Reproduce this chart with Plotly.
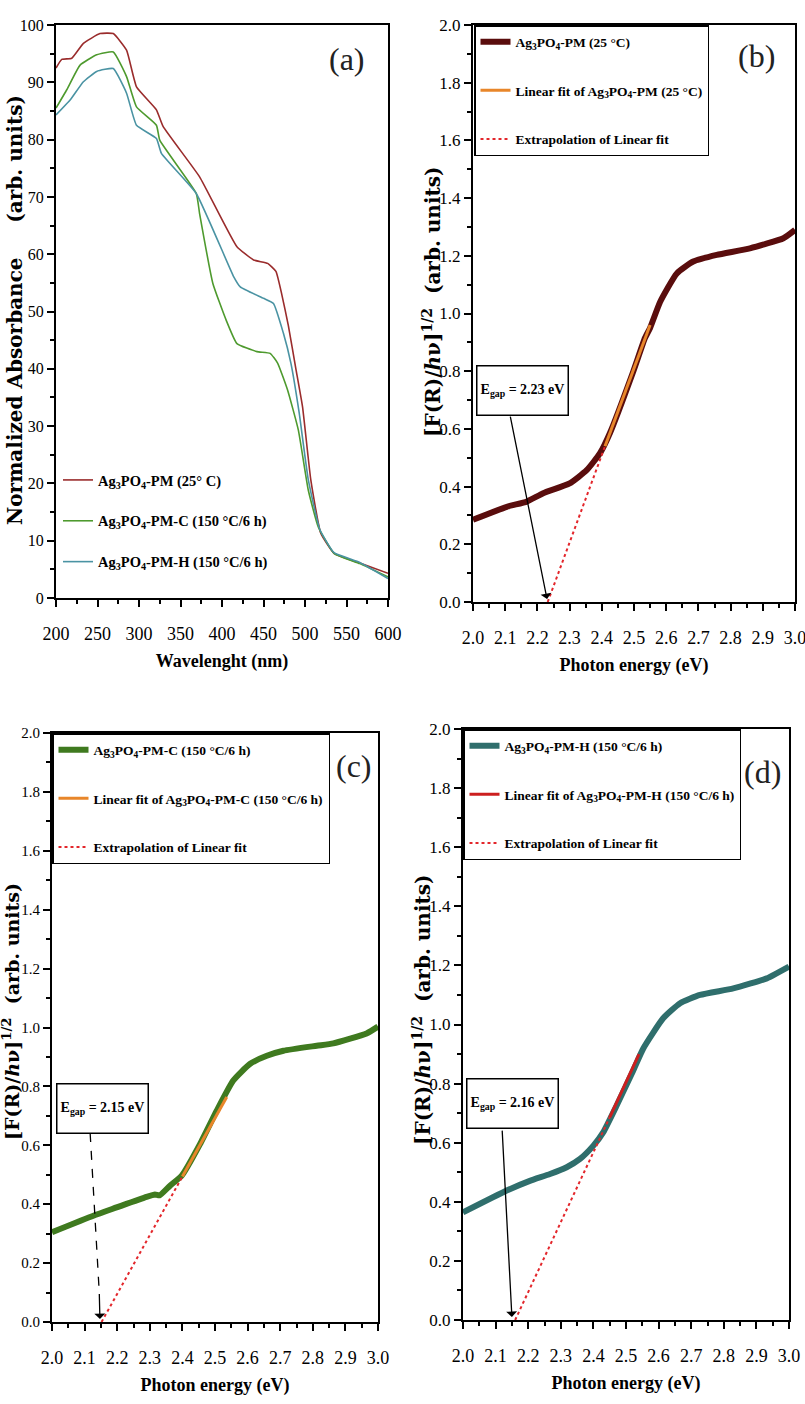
import plotly.graph_objects as go

# ---------------- data ----------------
# (a) normalized absorbance vs wavelength
wl_pm = [200, 207, 219, 233, 253, 269, 285, 297, 321, 329, 373, 418, 438, 455, 465, 472, 480, 489, 497, 507, 519, 535, 566, 600]
abs_pm = [92.5, 94.0, 94.2, 96.8, 98.5, 98.5, 95.6, 89.2, 85.2, 82.3, 73.5, 61.3, 59.0, 58.4, 57.0, 53.0, 47.5, 40.0, 33.4, 20.6, 11.3, 7.8, 6.1, 4.3]
wl_c = [200, 213, 229, 249, 269, 285, 297, 321, 325, 369, 373, 389, 405, 418, 442, 458, 467, 479, 492, 504, 516, 535, 566, 600]
abs_c = [85.5, 88.7, 93.0, 94.8, 95.3, 91.0, 85.7, 82.5, 79.9, 70.6, 67.1, 54.9, 48.5, 44.4, 43.0, 42.7, 41.0, 36.3, 29.3, 18.8, 12.4, 7.8, 6.0, 3.7]
wl_h = [200, 217, 233, 249, 269, 285, 297, 321, 327, 369, 414, 422, 450, 462, 474, 483, 493, 504, 518, 535, 566, 600]
abs_h = [84.3, 86.9, 90.1, 91.9, 92.4, 88.1, 82.5, 80.2, 77.6, 70.6, 56.1, 54.3, 52.3, 51.4, 46.2, 41.0, 32.3, 20.6, 11.9, 7.9, 6.2, 3.4]

# (b) Ag3PO4-PM (25 °C)
e_b = [2.0, 2.105, 2.167, 2.218, 2.30, 2.353, 2.394, 2.425, 2.498, 2.534, 2.55, 2.581, 2.633, 2.684, 2.757, 2.86, 2.964, 3.0]
f_b = [0.285, 0.33, 0.348, 0.377, 0.411, 0.457, 0.515, 0.585, 0.80, 0.915, 0.95, 1.04, 1.139, 1.18, 1.203, 1.226, 1.261, 1.29]
fit_b_x = [2.41, 2.55]
fit_b_y = [0.54, 0.96]
ext_b_x = [2.232, 2.41]
ext_b_y = [0.0, 0.54]
gap_b = 2.23

# (c) Ag3PO4-PM-C (150 °C/6 h)
e_c = [2.0, 2.127, 2.198, 2.29, 2.316, 2.33, 2.362, 2.398, 2.454, 2.505, 2.556, 2.607, 2.659, 2.71, 2.812, 2.863, 2.965, 3.0]
f_c = [0.305, 0.361, 0.389, 0.425, 0.433, 0.43, 0.463, 0.497, 0.604, 0.717, 0.82, 0.876, 0.904, 0.921, 0.938, 0.946, 0.98, 1.003]
fit_c_x = [2.40, 2.536]
fit_c_y = [0.494, 0.764]
ext_c_x = [2.152, 2.40]
ext_c_y = [0.0, 0.494]
gap_c = 2.15

# (d) Ag3PO4-PM-H (150 °C/6 h)
e_d = [2.0, 2.134, 2.205, 2.267, 2.318, 2.359, 2.4, 2.43, 2.471, 2.522, 2.553, 2.614, 2.666, 2.727, 2.829, 2.932, 2.962, 3.0]
f_d = [0.364, 0.438, 0.471, 0.494, 0.517, 0.545, 0.59, 0.635, 0.725, 0.844, 0.919, 1.021, 1.072, 1.1, 1.122, 1.156, 1.173, 1.196]
fit_d_x = [2.45, 2.54]
fit_d_y = [0.686, 0.90]
ext_d_x = [2.16, 2.45]
ext_d_y = [0.0, 0.686]
gap_d = 2.16

W, H = 805, 1404
SERIF = "Liberation Serif"
WIDE = "DejaVu Serif"
AG = "Ag<sub>3</sub>PO<sub>4</sub>"


def px(x):
    return x / W


def py(y):
    return 1 - y / H


fig = go.Figure()

# ---- (a)
for xs, ys, name, col in [
    (wl_pm, abs_pm, AG + "-PM (25° C)", "#9a2c2c"),
    (wl_c, abs_c, AG + "-PM-C (150 °C/6 h)", "#4e9a2e"),
    (wl_h, abs_h, AG + "-PM-H (150 °C/6 h)", "#4a93a3"),
]:
    fig.add_trace(go.Scatter(x=xs, y=ys, mode="lines", name=name, xaxis="x", yaxis="y",
                             line=dict(color=col, width=1.6, shape="spline", smoothing=0.4),
                             legend="legend", legendgroup=name))


def energy_panel(xa, ya, leg, ex, fy, col, lab, fx, fyy, fcol, lab_fit, exx, exy):
    fig.add_trace(go.Scatter(x=ex, y=fy, mode="lines", name=lab, xaxis=xa, yaxis=ya,
                             line=dict(color=col, width=6, shape="spline", smoothing=0.5),
                             legend=leg, legendgroup=leg + "d"))
    fig.add_trace(go.Scatter(x=fx, y=fyy, mode="lines", name=lab_fit, xaxis=xa, yaxis=ya,
                             line=dict(color=fcol, width=3),
                             legend=leg, legendgroup=leg + "f"))
    fig.add_trace(go.Scatter(x=exx, y=exy, mode="lines", name="Extrapolation of Linear fit",
                             xaxis=xa, yaxis=ya, line=dict(color="#e3262b", width=2, dash="dot"),
                             legend=leg, legendgroup=leg + "e"))


energy_panel("x2", "y2", "legend2", e_b, f_b, "#5a0d0d", AG + "-PM (25 °C)",
             fit_b_x, fit_b_y, "#e8862a", "Linear fit of " + AG + "-PM (25 °C)", ext_b_x, ext_b_y)
energy_panel("x3", "y3", "legend3", e_c, f_c, "#3f7a1f", AG + "-PM-C (150 °C/6 h)",
             fit_c_x, fit_c_y, "#e8862a", "Linear fit of " + AG + "-PM-C (150 °C/6 h)", ext_c_x, ext_c_y)
energy_panel("x4", "y4", "legend4", e_d, f_d, "#2f6e6c", AG + "-PM-H (150 °C/6 h)",
             fit_d_x, fit_d_y, "#cc1f1f", "Linear fit of " + AG + "-PM-H (150 °C/6 h)", ext_d_x, ext_d_y)

# ---- axes
tickfont = dict(family=SERIF, size=18, color="black")
xtitlefont = dict(family=SERIF, size=18, color="black", weight="bold")


def xax(dom, anchor, rng, dtick, mdtick, title, fmt=None):
    d = dict(domain=dom, anchor=anchor, range=rng, dtick=dtick, tick0=rng[0], automargin=False,
             showline=True, linecolor="black", linewidth=2, mirror=True,
             ticks="outside", ticklen=7, tickwidth=2, tickcolor="black",
             minor=dict(ticks="outside", ticklen=4, tickwidth=1.5, tickcolor="black", dtick=mdtick),
             showgrid=False, zeroline=False, tickfont=tickfont, ticklabelstandoff=11,
             ticklabeloverflow="allow",
             title=dict(text=title, font=xtitlefont, standoff=12))
    if fmt:
        d["tickformat"] = fmt
    return d


def yax(dom, anchor, rng, dtick, mdtick, fmt=None, tsize=16):
    d = dict(domain=dom, anchor=anchor, range=rng, dtick=dtick, tick0=0, automargin=False,
             showline=True, linecolor="black", linewidth=2, mirror=True,
             ticks="outside", ticklen=7, tickwidth=2, tickcolor="black",
             minor=dict(ticks="outside", ticklen=4, tickwidth=1.5, tickcolor="black", dtick=mdtick),
             showgrid=False, zeroline=False, tickfont=dict(family=SERIF, size=tsize, color="black"))
    if fmt:
        d["tickformat"] = fmt
    return d


fig.update_layout(
    width=W, height=H, autosize=False,
    margin=dict(l=0, r=0, t=0, b=0, autoexpand=False),
    paper_bgcolor="white", plot_bgcolor="white",
    xaxis=xax([px(56), px(388)], "y", [200, 600], 50, 25, "Wavelenght (nm)"),
    yaxis=yax([py(598), py(25)], "x", [0, 100], 10, 5),
    xaxis2=xax([px(473), px(795)], "y2", [2.0, 3.0], 0.1, 0.05, "Photon energy (eV)", ".1f"),
    yaxis2=yax([py(602), py(25)], "x2", [0, 2.0], 0.2, 0.1, ".1f", tsize=17),
    xaxis3=xax([px(52), px(378)], "y3", [2.0, 3.0], 0.1, 0.05, "Photon energy (eV)", ".1f"),
    yaxis3=yax([py(1322), py(733)], "x3", [0, 2.0], 0.2, 0.1, ".1f", tsize=15),
    xaxis4=xax([px(463), px(789)], "y4", [2.0, 3.0], 0.1, 0.05, "Photon energy (eV)", ".1f"),
    yaxis4=yax([py(1320), py(729)], "x4", [0, 2.0], 0.2, 0.1, ".1f", tsize=17),
)

# ---- y-axis titles (rotated text placed beside each axis)
ytitle_a = "Normalized Absorbance     (arb. units)"
ytitle_e = "[F(R)/<i>h</i>ν]<sup>1/2</sup>  (arb. units)"
for txt, cx, cy, fs in [(ytitle_a, 15, 310, 20), (ytitle_e, 432, 302, 20),
                        (ytitle_e, 11, 1012, 19), (ytitle_e, 422, 1010, 20)]:
    fig.add_annotation(text=txt, x=px(cx), y=py(cy), xref="paper", yref="paper", textangle=-90,
                       showarrow=False, xanchor="center", yanchor="middle",
                       font=dict(family=WIDE, size=fs, color="black", weight="bold"))

legfont = dict(family=SERIF, size=13.5, color="black", weight="bold")
legfont_a = dict(family=SERIF, size=14.5, color="black", weight="bold")
fig.update_layout(
    legend=dict(x=px(58), y=py(464), xanchor="left", yanchor="top", bgcolor="rgba(0,0,0,0)",
                borderwidth=0, font=legfont_a, itemwidth=30, tracegroupgap=19),
    legend2=dict(x=px(474), y=py(25), xanchor="left", yanchor="top", bgcolor="white",
                 bordercolor="black", borderwidth=1.5, font=legfont, itemwidth=30, tracegroupgap=28),
    legend3=dict(x=px(52), y=py(733), xanchor="left", yanchor="top", bgcolor="white",
                 bordercolor="black", borderwidth=1.5, font=legfont, itemwidth=30, tracegroupgap=28),
    legend4=dict(x=px(463), y=py(729), xanchor="left", yanchor="top", bgcolor="white",
                 bordercolor="black", borderwidth=1.5, font=legfont, itemwidth=30, tracegroupgap=28),
)

# ---- panel labels
for txt, cx, cy in [("(a)", 347, 59), ("(b)", 756, 56), ("(c)", 354, 766), ("(d)", 762, 772)]:
    fig.add_annotation(text=txt, x=px(cx), y=py(cy), xref="paper", yref="paper",
                       showarrow=False, xanchor="center", yanchor="middle",
                       font=dict(family=SERIF, size=32, color="#222222"))

# ---- Egap boxes and arrows
boxfont = dict(family=SERIF, size=14, color="black", weight="bold")
for gap, cx, cy, xa, ya, tail_e, tail_v, tip_e in [
    (gap_b, 522, 390, "x2", "y2", 2.115, 0.648, gap_b),
    (gap_c, 102, 1108, "x3", "y3", 2.117, 0.642, 2.147),
    (gap_d, 512, 1103, "x4", "y4", 2.12, 0.646, 2.15),
]:
    fig.add_annotation(text="E<sub>gap</sub> = %.2f eV" % gap, x=px(cx), y=py(cy),
                       xref="paper", yref="paper", showarrow=False, width=86, height=44,
                       xanchor="center", yanchor="middle", font=boxfont, align="center",
                       bgcolor="white", bordercolor="black", borderwidth=1.5, borderpad=2)
    if xa == "x3":
        fig.add_shape(type="line", xref=xa, yref=ya, x0=tail_e, y0=tail_v, x1=tip_e - 0.002, y1=0.1,
                      line=dict(color="black", width=1.3, dash="dash"))
        fig.add_annotation(text="", x=tip_e, y=0.01, xref=xa, yref=ya, ax=tip_e - 0.002, ay=0.1,
                           axref=xa, ayref=ya, showarrow=True, arrowhead=1, arrowsize=1.4,
                           arrowwidth=1.3, arrowcolor="black")
    else:
        fig.add_annotation(text="", x=tip_e, y=0.01, xref=xa, yref=ya, ax=tail_e, ay=tail_v,
                           axref=xa, ayref=ya, showarrow=True, arrowhead=1, arrowsize=1.4,
                           arrowwidth=1.3, arrowcolor="black")

# remove the browser's default 8px page margin so the figure fills the window exactly
fig.write_html("out.html", config={"displayModeBar": False},
               post_script="document.body.style.margin='0';")
